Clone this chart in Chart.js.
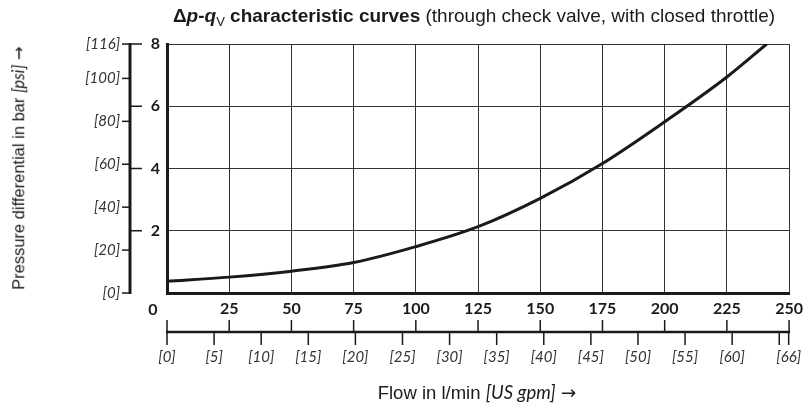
<!DOCTYPE html>
<html>
<head>
<meta charset="utf-8">
<script src="https://cdn.jsdelivr.net/npm/chart.js@4.4.1/dist/chart.umd.min.js"></script>
<style>
  body { margin: 0; background: #fff; }
  #wrap { position: relative; width: 809px; height: 408px; }
  .txt { position: absolute; white-space: nowrap; color: #1a1a1a; font-family: "Liberation Sans", Arial, sans-serif; line-height: 1; }
  .it { font-family: Lato, sans-serif; font-style: italic; }
  .arr { font-family: "DejaVu Sans", sans-serif; }
  #title { left: 474px; top: 6px; font-size: 19px; transform: translateX(-50%); }
  #title sub { font-size: 13px; font-weight: normal; vertical-align: -4px; }
  #ylab { left: 19px; top: 168px; font-size: 16.5px; transform: translate(-50%, -50%) rotate(-90deg); }
  #xlab { left: 477px; top: 393px; font-size: 18.5px; transform: translate(-50%, -50%); }
</style>
</head>
<body>
<div id="wrap">
  <canvas id="chart" width="809" height="408"></canvas>
  <div id="title" class="txt"><b>Δ<i>p</i>-<i>q</i><sub>V</sub> characteristic curves</b> (through check valve, with closed throttle)</div>
  <div id="ylab" class="txt">Pressure differential in bar <span class="it">[psi]</span> <span class="arr">→</span></div>
  <div id="xlab" class="txt">Flow in l/min <span class="it">[US gpm]</span> <span class="arr">→</span></div>
</div>
<script>
// Δp over flow
const flow = [0, 25, 50, 75, 100, 125, 150, 175, 200, 225, 241];
const dp = [0.38, 0.51, 0.70, 0.98, 1.49, 2.13, 3.04, 4.16, 5.50, 6.94, 8.0];

const barTicks = [2, 4, 6, 8];
const flowTicks = [0, 25, 50, 75, 100, 125, 150, 175, 200, 225, 250];
const psiTicks = [0, 20, 40, 60, 80, 100, 116];
const gpmTicks = [0, 5, 10, 15, 20, 25, 30, 35, 40, 45, 50, 55, 60, 65, 66];
const gpmLabels = ['[0]', '[5]', '[10]', '[15]', '[20]', '[25]', '[30]', '[35]', '[40]', '[45]', '[50]', '[55]', '[60]', '', '[66]'];

const PSI_PER_BAR = 14.5038;
const LPM_PER_GPM = 3.78541;
const ink = '#1a1a1a';

// secondary psi / gpm scales drawn beside the main ones
const extraAxes = {
  id: 'extraAxes',
  afterDraw(chart) {
    const { ctx, chartArea, scales: { x, y } } = chart;
    ctx.save();
    ctx.strokeStyle = ink;
    ctx.fillStyle = ink;

    // psi axis
    const px = chartArea.left - 37;
    ctx.lineWidth = 3;
    ctx.beginPath();
    ctx.moveTo(px, y.getPixelForValue(0) + 1);
    ctx.lineTo(px, y.getPixelForValue(8) - 1);
    ctx.stroke();

    ctx.lineWidth = 1.5;
    barTicks.forEach(v => {
      const py = y.getPixelForValue(v);
      ctx.beginPath(); ctx.moveTo(px, py); ctx.lineTo(px + 12, py); ctx.stroke();
    });
    ctx.font = 'italic 15px Lato';
    ctx.fillStyle = '#333';
    ctx.textAlign = 'right';
    ctx.textBaseline = 'middle';
    psiTicks.forEach(v => {
      const py = y.getPixelForValue(v / PSI_PER_BAR);
      ctx.beginPath(); ctx.moveTo(px - 8, py); ctx.lineTo(px, py); ctx.stroke();
      ctx.fillText('[' + v + ']', px - 10, py);
    });

    // shared zero
    ctx.fillStyle = ink;
    ctx.font = 'bold 16px Lato';
    ctx.textAlign = 'center';
    ctx.fillText('0', chartArea.left - 14, chartArea.bottom + 17);

    // gpm axis
    const gy = chartArea.bottom + 39;
    ctx.lineWidth = 2.5;
    ctx.beginPath();
    ctx.moveTo(x.getPixelForValue(0) - 1, gy);
    ctx.lineTo(x.getPixelForValue(250) + 1, gy);
    ctx.stroke();

    ctx.lineWidth = 1.5;
    flowTicks.forEach(v => {
      const gx = x.getPixelForValue(v);
      ctx.beginPath(); ctx.moveTo(gx, gy - 12); ctx.lineTo(gx, gy); ctx.stroke();
    });
    ctx.font = 'italic 15px Lato';
    ctx.fillStyle = '#333';
    gpmTicks.forEach((v, i) => {
      const gx = x.getPixelForValue(Math.min(v * LPM_PER_GPM, 250));
      ctx.beginPath(); ctx.moveTo(gx, gy); ctx.lineTo(gx, gy + 13); ctx.stroke();
      if (gpmLabels[i]) ctx.fillText(gpmLabels[i], gx, gy + 25);
    });
    ctx.restore();
  }
};

new Chart(document.getElementById('chart'), {
  type: 'line',
  data: {
    datasets: [{
      data: flow.map((f, i) => ({ x: f, y: dp[i] })),
      borderColor: ink,
      borderWidth: 3,
      pointRadius: 0,
      cubicInterpolationMode: 'monotone',
      fill: false
    }]
  },
  options: {
    responsive: false,
    animation: false,
    layout: { padding: { left: 127, right: 18, top: 44, bottom: 75 } },
    plugins: { legend: { display: false }, tooltip: { enabled: false } },
    scales: {
      x: {
        type: 'linear', min: 0, max: 250,
        afterFit(s) { s.height = 40; },
        ticks: {
          stepSize: 25, padding: 6, maxRotation: 0, autoSkip: false, color: ink,
          font: { family: 'Lato', weight: 'bold', size: 16 },
          callback: v => v === 0 ? '' : v
        },
        grid: { color: '#333', lineWidth: 1, drawTicks: false },
        border: { color: ink, width: 3 }
      },
      y: {
        type: 'linear', min: 0, max: 8,
        afterFit(s) { s.width = 40; },
        ticks: {
          stepSize: 2, padding: 7, color: ink,
          font: { family: 'Lato', weight: 'bold', size: 16 },
          callback: v => v === 0 ? '' : v
        },
        grid: { color: '#333', lineWidth: 1, drawTicks: false },
        border: { color: ink, width: 3 }
      }
    }
  },
  plugins: [extraAxes]
});
</script>
</body>
</html>
